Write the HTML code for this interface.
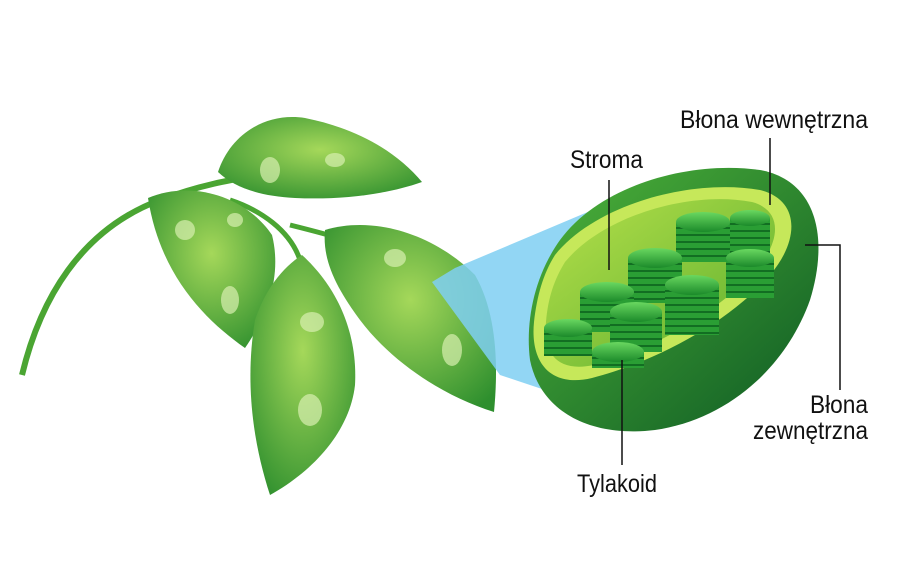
<!DOCTYPE html>
<html><head><meta charset="utf-8"><style>
html,body{margin:0;padding:0;background:#fff;}
svg{display:block}
text{font-family:"Liberation Sans Narrow","Liberation Sans",sans-serif;font-size:25px;fill:#111}
</style></head><body>
<svg width="900" height="569" viewBox="0 0 900 569" xmlns="http://www.w3.org/2000/svg">
<defs>
<radialGradient id="lf" cx="50%" cy="40%" r="70%"><stop offset="0" stop-color="#a5d85a"/><stop offset="1" stop-color="#2e8f2e"/></radialGradient>
<linearGradient id="outer" x1="0" y1="0" x2="1" y2="1"><stop offset="0" stop-color="#4fb53a"/><stop offset="1" stop-color="#0e5a24"/></linearGradient>
<linearGradient id="inner" x1="0" y1="0" x2="1" y2="1"><stop offset="0" stop-color="#b6e04a"/><stop offset="1" stop-color="#5aae2e"/></linearGradient>
<linearGradient id="disk" x1="0" y1="0" x2="0" y2="1"><stop offset="0" stop-color="#6ad860"/><stop offset="1" stop-color="#1b8a2a"/></linearGradient>
<pattern id="stripe" width="10" height="7" patternUnits="userSpaceOnUse"><rect width="10" height="7" fill="#2a9e34"/><rect y="5" width="10" height="2" fill="#126e22"/></pattern>
</defs>
<!-- stem -->
<path d="M22 375 C40 300 80 230 160 200 C200 185 230 180 260 175" stroke="#4aa532" stroke-width="6" fill="none"/>
<path d="M230 200 C260 210 290 230 300 260" stroke="#4aa532" stroke-width="5" fill="none"/>
<path d="M290 225 C310 230 330 235 345 240" stroke="#4aa532" stroke-width="5" fill="none"/>
<!-- leaves -->
<path d="M218 172 C230 135 265 112 305 118 C355 128 395 150 422 182 C385 195 340 200 295 198 C260 196 235 188 218 172Z" fill="url(#lf)"/>
<path d="M148 198 C190 180 245 195 272 235 C282 275 268 315 245 348 C205 320 160 275 148 198Z" fill="url(#lf)"/>
<path d="M302 255 C335 285 358 330 355 385 C350 430 315 470 270 495 C252 440 245 380 255 320 C265 290 282 268 302 255Z" fill="url(#lf)"/>
<path d="M325 230 C375 215 435 235 475 275 C498 315 498 370 494 412 C440 395 390 360 360 320 C338 290 322 262 325 230Z" fill="url(#lf)"/>
<g fill="#d8f0b0" opacity="0.7">
<ellipse cx="270" cy="170" rx="10" ry="13"/><ellipse cx="335" cy="160" rx="10" ry="7"/><ellipse cx="185" cy="230" rx="10" ry="10"/>
<ellipse cx="235" cy="220" rx="8" ry="7"/><ellipse cx="230" cy="300" rx="9" ry="14"/><ellipse cx="312" cy="322" rx="12" ry="10"/>
<ellipse cx="310" cy="410" rx="12" ry="16"/><ellipse cx="395" cy="258" rx="11" ry="9"/><ellipse cx="452" cy="350" rx="10" ry="16"/>
</g>
<!-- cone -->
<polygon points="432,282 455,268 640,190 545,390 500,375" fill="#7fcff2" opacity="0.85"/>
<!-- chloroplast -->
<path d="M560 240 C600 185 690 160 760 170 C815 180 830 235 810 300 C785 370 725 420 655 430 C588 438 540 410 530 360 C525 320 535 275 560 240Z" fill="url(#outer)"/>
<path d="M555 255 C595 205 690 178 760 190 C800 200 800 240 770 275 C730 322 655 362 592 378 C550 388 530 362 534 322 C537 296 543 274 555 255Z" fill="#c6e85a"/>
<path d="M565 262 C603 216 690 190 752 202 C782 210 782 240 756 270 C716 314 648 352 594 365 C556 373 543 352 546 322 C548 298 554 280 565 262Z" fill="url(#inner)"/>
<g>
<g transform="translate(703,222)"><rect x="-27" y="0" width="54" height="40" fill="url(#stripe)"/><ellipse cx="0" cy="0" rx="27" ry="10" fill="url(#disk)"/></g>
<g transform="translate(750,218)"><rect x="-20" y="0" width="40" height="40" fill="url(#stripe)"/><ellipse cx="0" cy="0" rx="20" ry="8" fill="url(#disk)"/></g>
<g transform="translate(655,258)"><rect x="-27" y="0" width="54" height="45" fill="url(#stripe)"/><ellipse cx="0" cy="0" rx="27" ry="10" fill="url(#disk)"/></g>
<g transform="translate(750,258)"><rect x="-24" y="0" width="48" height="40" fill="url(#stripe)"/><ellipse cx="0" cy="0" rx="24" ry="9" fill="url(#disk)"/></g>
<g transform="translate(607,292)"><rect x="-27" y="0" width="54" height="40" fill="url(#stripe)"/><ellipse cx="0" cy="0" rx="27" ry="10" fill="url(#disk)"/></g>
<g transform="translate(692,285)"><rect x="-27" y="0" width="54" height="50" fill="url(#stripe)"/><ellipse cx="0" cy="0" rx="27" ry="10" fill="url(#disk)"/></g>
<g transform="translate(636,312)"><rect x="-26" y="0" width="52" height="40" fill="url(#stripe)"/><ellipse cx="0" cy="0" rx="26" ry="10" fill="url(#disk)"/></g>
<g transform="translate(568,328)"><rect x="-24" y="0" width="48" height="28" fill="url(#stripe)"/><ellipse cx="0" cy="0" rx="24" ry="9" fill="url(#disk)"/></g>
<g transform="translate(618,352)"><rect x="-26" y="0" width="52" height="16" fill="url(#stripe)"/><ellipse cx="0" cy="0" rx="26" ry="10" fill="url(#disk)"/></g>
</g>
<!-- leader lines -->
<g stroke="#111" stroke-width="1.5" fill="none">
<line x1="609" y1="180" x2="609" y2="270"/>
<line x1="770" y1="138" x2="770" y2="205"/>
<polyline points="805,245 840,245 840,390"/>
<line x1="622" y1="360" x2="622" y2="465"/>
</g>
<text x="570" y="168" textLength="73" lengthAdjust="spacingAndGlyphs">Stroma</text>
<text x="680" y="128" textLength="188" lengthAdjust="spacingAndGlyphs">Błona wewnętrzna</text>
<text x="810" y="413" textLength="58" lengthAdjust="spacingAndGlyphs">Błona</text>
<text x="753" y="439" textLength="115" lengthAdjust="spacingAndGlyphs">zewnętrzna</text>
<text x="577" y="492" textLength="80" lengthAdjust="spacingAndGlyphs">Tylakoid</text>
</svg>
</body></html>
